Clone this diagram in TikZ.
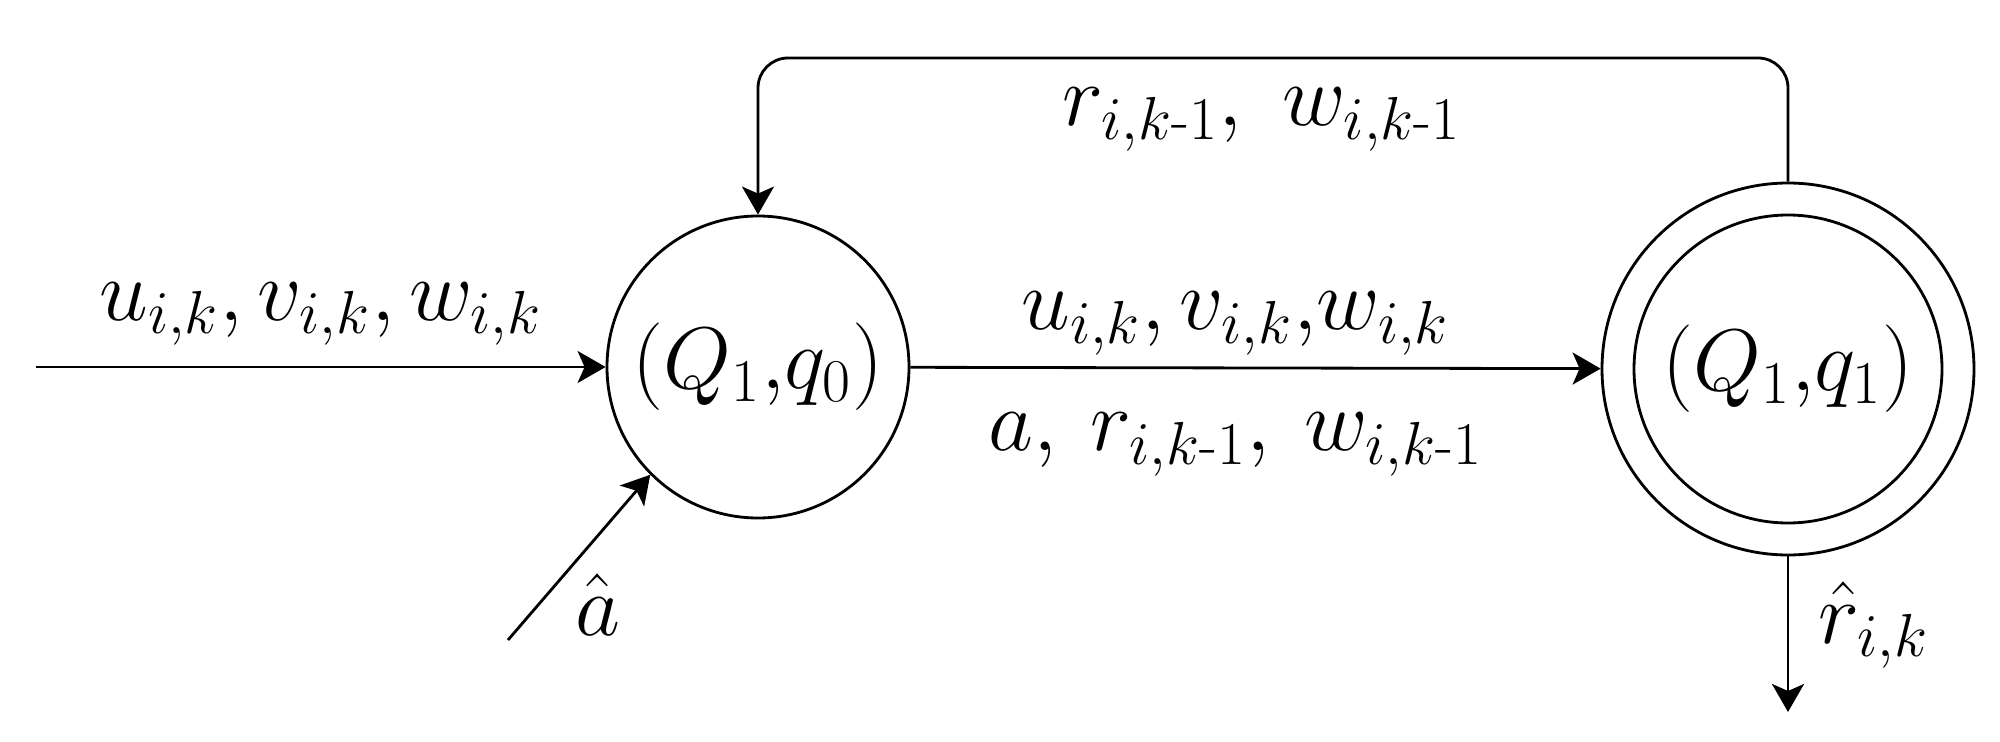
\documentclass[tikz,border=0pt]{standalone}
\usepackage{amsmath}
\usetikzlibrary{arrows.meta}
\tikzstyle{st}=[circle,draw=black,line width=0.8pt,minimum size=3.02cm,inner sep=0pt,font=\fontsize{26}{30}\selectfont]
\tikzstyle{lbl}=[inner sep=0pt,font=\fontsize{24}{28}\selectfont]
\tikzstyle{arr}=[-{Stealth[length=0.28cm,width=0.32cm,inset=0.07cm]},line width=0.8pt]
\newcommand{\km}{k\text{-}1}

\begin{document}
\begin{tikzpicture}
\useasboundingbox (0,0) rectangle (20,-7.42);
% states
\node[st] (q0) at (7.58,-3.67) {$(Q_1{,}q_0)$};
\node[st,minimum size=3.72cm] (q1) at (17.88,-3.69) {};
\node[st,minimum size=3.08cm] (q1in) at (q1) {$(Q_1{,}q_1)$};
% free ends
\coordinate (in) at (0.36,-3.67);
\coordinate (ain) at (5.08,-6.40);
\coordinate (out) at (17.88,-7.12);
\coordinate (loop) at (12.7,-0.58);
% transitions
\draw[arr] (in) -- (q0.west) node[lbl,midway,anchor=base,yshift=0.47cm] {$u_{i,k}, v_{i,k}, w_{i,k}$};
\draw[arr] (q0) -- (q1)
  node[lbl,midway,anchor=base,xshift=-0.2cm,yshift=0.38cm] {$u_{i,k}, v_{i,k}{,}w_{i,k}$}
  node[lbl,midway,anchor=base,xshift=-0.2cm,yshift=-0.83cm] {$a,\mkern4mu r_{i,\km},\mkern4mu w_{i,\km}$};
\draw[arr,rounded corners=0.3cm] (q1.north) |- (loop) -| (q0.north);
\node[lbl,anchor=base] (ltop) at (12.62,-1.26) {$r_{i,\km},\ w_{i,\km}$};
\draw[arr] (ain) -- (q0.-135);
\node[lbl,anchor=base] (la) at (5.98,-6.35) {$\hat{a}$};
\draw[arr] (q1.south) -- (out);
\node[lbl,anchor=base west] (lr) at (18.18,-6.43) {$\hat{r}_{i,k}$};
\end{tikzpicture}
\end{document}
